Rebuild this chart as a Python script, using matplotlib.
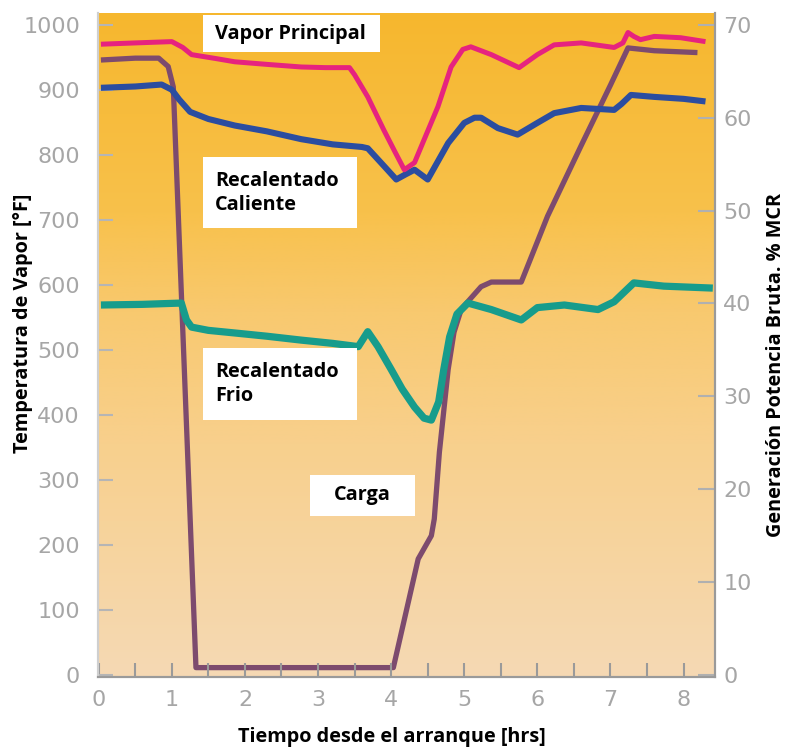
import numpy as np
import matplotlib
matplotlib.use("Agg")
import matplotlib.pyplot as plt
from matplotlib.colors import LinearSegmentedColormap
from matplotlib.patches import Rectangle

# ---- data ----
vp_t = [0.03, 0.5, 1.0, 1.15, 1.27, 1.6, 1.86, 2.3, 2.77, 3.1, 3.43, 3.5, 3.68, 3.9, 4.05, 4.18,
        4.32, 4.45, 4.64, 4.82, 4.98, 5.09, 5.37, 5.75, 6.0, 6.23, 6.6, 7.05, 7.17, 7.24, 7.32,
        7.41, 7.6, 7.96, 8.3]
vp = [970, 972, 974, 965, 954, 948, 943, 939, 935, 934, 934, 923, 889, 838, 805, 777,
      788, 823, 874, 935, 962, 966, 954, 934, 954, 969, 972, 965, 972, 988, 982,
      977, 982, 980, 974]

rc_t = [0.03, 0.5, 0.86, 1.0, 1.1, 1.25, 1.5, 1.86, 2.3, 2.77, 3.2, 3.6, 3.68, 3.9, 4.07,
        4.2, 4.32, 4.5, 4.65, 4.78, 5.0, 5.14, 5.23, 5.46, 5.73, 6.0, 6.23, 6.6, 7.05, 7.15,
        7.28, 7.6, 8.0, 8.3]
rc = [903, 905, 908, 900, 885, 866, 855, 845, 836, 824, 816, 812, 810, 783, 762,
      770, 777, 762, 792, 818, 849, 857, 857, 841, 831, 849, 864, 872, 869, 878,
      892, 889, 886, 882]

rf_t = [0.03, 0.6, 1.13, 1.2, 1.27, 1.5, 1.86, 2.3, 2.77, 3.2, 3.55, 3.68, 3.82, 4.0, 4.15,
        4.32, 4.45, 4.55, 4.65, 4.72, 4.8, 4.9, 5.05, 5.37, 5.78, 6.0, 6.37, 6.83, 7.05, 7.32,
        7.73, 8.4]
rf = [569, 570, 572, 546, 535, 530, 526, 521, 515, 510, 505, 528, 505, 470, 440,
      412, 395, 392, 420, 470, 520, 555, 572, 562, 546, 565, 569, 562, 574, 603,
      598, 595]

ca_t = [0.03, 0.5, 0.82, 0.95, 1.02, 1.33, 2.0, 3.0, 4.03, 4.37, 4.55, 4.59, 4.66,
        4.78, 4.86, 4.96, 5.23, 5.37, 5.78, 6.14, 6.6, 7.0, 7.24, 7.6, 8.19]
ca = [66.2, 66.4, 66.4, 65.5, 63.3, 0.8, 0.8, 0.8, 0.8, 12.5, 15.0, 16.8, 24.0,
      32.9, 36.9, 39.4, 41.8, 42.3, 42.3, 49.4, 57.0, 63.5, 67.5, 67.2, 67.0]

x_ticks = [0, 1, 2, 3, 4, 5, 6, 7, 8]
y_ticks = [0, 100, 200, 300, 400, 500, 600, 700, 800, 900, 1000]
y2_ticks = [0, 10, 20, 30, 40, 50, 60, 70]

labels = ["Vapor Principal", "Recalentado\nCaliente", "Recalentado\nFrio", "Carga"]

# ---- figure ----
W, H = 786, 751
fig = plt.figure(figsize=(W / 100, H / 100), dpi=100)
fig.patch.set_facecolor("white")

def fx(px):
    return px / W

def fy(py):
    return 1 - py / H

left, right, top, bottom = 98, 715, 13, 677
ax2 = fig.add_axes([fx(left), fy(bottom), fx(right) - fx(left), fy(top) - fy(bottom)])
ax = fig.add_axes(ax2.get_position(), sharex=ax2)
ax.set_zorder(ax2.get_zorder() + 1)
ax.patch.set_visible(False)

ylo, yhi = -3, 1018
ax.set_ylim(ylo, yhi)
ax2.set_ylim(ylo * 0.07, yhi * 0.07)
ax2.set_xlim(-0.01, 8.43)

# background gradient
cmap = LinearSegmentedColormap.from_list(
    "bg", [(0.0, "#F6B72E"), (0.3, "#F8C14B"), (0.45, "#F8C96F"),
           (0.65, "#F8D08D"), (1.0, "#F5D9B4")])
grad = np.linspace(0, 1, 256).reshape(-1, 1)
ax2.imshow(grad, aspect="auto", cmap=cmap, extent=[0, 1, 0, 1],
           transform=ax2.transAxes, origin="upper", zorder=0)

# lines
ax2.plot(ca_t, ca, color="#7D4B6E", lw=3.8, solid_capstyle="butt", zorder=3)
ax.plot(rf_t, rf, color="#179C8C", lw=5.2, solid_capstyle="butt", zorder=3)
ax.plot(rc_t, rc, color="#2B4DA0", lw=4.4, solid_capstyle="butt", zorder=4)
ax.plot(vp_t, vp, color="#E6237F", lw=3.6, solid_capstyle="butt", zorder=5)

# ticks
tick_grey = "#a6a6a6"
ax.set_xticks(x_ticks)
ax.set_xticks(np.arange(0.5, 8.5, 1.0), minor=True)
ax.set_yticks(y_ticks)
ax.tick_params(axis="x", which="both", direction="in", length=10, width=1.5,
               color="#9a9a9a", labelcolor=tick_grey, labelsize=16, pad=9)
ax.tick_params(axis="y", which="both", direction="in", length=11, width=1.5,
               color="#b5b5b5", labelcolor=tick_grey, labelsize=16, pad=13)
ax2.set_yticks(y2_ticks)
ax2.yaxis.tick_right()
ax2.tick_params(axis="y", direction="in", length=12, width=1.5, color="#b0b0b0",
                labelcolor=tick_grey, labelsize=16, pad=6)
ax2.tick_params(axis="x", which="both", bottom=False, labelbottom=False)
ax.tick_params(axis="y", right=False)

for a in (ax, ax2):
    a.spines["top"].set_visible(False)
    a.spines["left"].set_color("#cfcfcf")
    a.spines["right"].set_color("#9a9a9a")
    a.spines["bottom"].set_color("#9a9a9a")
    for s in ("left", "right", "bottom"):
        a.spines[s].set_linewidth(1.5)

# axis labels
lab_font = dict(family="Open Sans", weight="bold", size=14.3, color="black")
fig.text(fx(23), fy(323), "Temperatura de Vapor [°F]", rotation=90,
         ha="center", va="center", **lab_font)
fig.text(fx(776), fy(365), "Generación Potencia Bruta. % MCR", rotation=90,
         ha="center", va="center", **lab_font)
fig.text(fx(392), fy(737), "Tiempo desde el arranque [hrs]",
         ha="center", va="center", **lab_font)

# white annotation boxes
boxes = [(203, 15, 380, 52), (203, 157, 357, 228), (203, 348, 357, 420), (310, 475, 415, 516)]
for (x0, y0, x1, y1) in boxes:
    fig.add_artist(Rectangle((fx(x0), fy(y1)), fx(x1) - fx(x0), fy(y0) - fy(y1),
                             transform=fig.transFigure, facecolor="white",
                             edgecolor="none", zorder=10))
fig.text(fx(215), fy(34), labels[0], ha="left", va="center", zorder=11, **lab_font)
fig.text(fx(215), fy(193), labels[1], ha="left", va="center", zorder=11,
         linespacing=1.3, **lab_font)
fig.text(fx(215), fy(384), labels[2], ha="left", va="center", zorder=11,
         linespacing=1.3, **lab_font)
fig.text(fx(362), fy(495), labels[3], ha="center", va="center", zorder=11, **lab_font)

fig.savefig("out.png", dpi=100, facecolor="white")
